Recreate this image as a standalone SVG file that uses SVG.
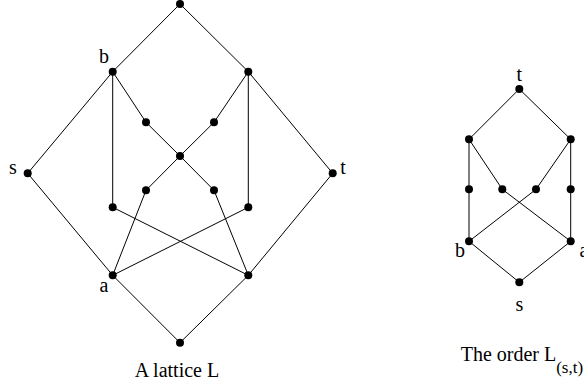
<svg xmlns="http://www.w3.org/2000/svg" width="584" height="385" viewBox="0 0 584 385">
<style>
.e{stroke:#000;stroke-width:1;fill:none}
.n{fill:#000}
text{font-family:"Liberation Serif","Times New Roman",serif;font-size:20px;fill:#000}
.lbl{text-anchor:middle}
</style>
<rect width="584" height="385" fill="#fff"/>
<g id="connectors" class="e">
<line x1="180" y1="4" x2="112.7" y2="71.7"/>
<line x1="180" y1="4" x2="248.3" y2="71.7"/>
<line x1="112.7" y1="71.7" x2="27.7" y2="173.3"/>
<line x1="112.7" y1="71.7" x2="112.7" y2="207.3"/>
<line x1="112.7" y1="71.7" x2="146" y2="122.3"/>
<line x1="248.3" y1="71.7" x2="332.7" y2="173.3"/>
<line x1="248.3" y1="71.7" x2="214" y2="122.3"/>
<line x1="248.3" y1="71.7" x2="248.3" y2="207.3"/>
<line x1="146" y1="122.3" x2="180" y2="156"/>
<line x1="214" y1="122.3" x2="180" y2="156"/>
<line x1="180" y1="156" x2="146" y2="190.3"/>
<line x1="180" y1="156" x2="214" y2="190.3"/>
<line x1="27.7" y1="173.3" x2="112.7" y2="275.3"/>
<line x1="332.7" y1="173.3" x2="248.3" y2="275.3"/>
<line x1="146" y1="190.3" x2="112.7" y2="275.3"/>
<line x1="214" y1="190.3" x2="248.3" y2="275.3"/>
<line x1="112.7" y1="207.3" x2="248.3" y2="275.3"/>
<line x1="248.3" y1="207.3" x2="112.7" y2="275.3"/>
<line x1="112.7" y1="275.3" x2="180" y2="342.7"/>
<line x1="248.3" y1="275.3" x2="180" y2="342.7"/>
<line x1="519.3" y1="89" x2="469" y2="139.3"/>
<line x1="519.3" y1="89" x2="570.7" y2="139.3"/>
<line x1="469" y1="139.3" x2="469" y2="189.3"/>
<line x1="469" y1="139.3" x2="502.3" y2="189.3"/>
<line x1="570.7" y1="139.3" x2="536" y2="189.3"/>
<line x1="570.7" y1="139.3" x2="570.7" y2="189.3"/>
<line x1="469" y1="189.3" x2="469" y2="241.3"/>
<line x1="570.7" y1="189.3" x2="570.7" y2="241.3"/>
<line x1="536" y1="189.3" x2="469" y2="241.3"/>
<line x1="502.3" y1="189.3" x2="570.7" y2="241.3"/>
<line x1="469" y1="241.3" x2="519.3" y2="282.3"/>
<line x1="570.7" y1="241.3" x2="519.3" y2="282.3"/>
</g>
<g id="L-top"><circle class="n" cx="180" cy="4" r="4"/></g>
<g id="L-b"><circle class="n" cx="112.7" cy="71.7" r="4"/><text class="lbl" x="104" y="63">b</text></g>
<g id="L-ur"><circle class="n" cx="248.3" cy="71.7" r="4"/></g>
<g id="L-il"><circle class="n" cx="146" cy="122.3" r="4"/></g>
<g id="L-ir"><circle class="n" cx="214" cy="122.3" r="4"/></g>
<g id="L-c"><circle class="n" cx="180" cy="156" r="4"/></g>
<g id="L-s"><circle class="n" cx="27.7" cy="173.3" r="4"/><text class="lbl" x="13" y="174">s</text></g>
<g id="L-t"><circle class="n" cx="332.7" cy="173.3" r="4"/><text class="lbl" x="343" y="174">t</text></g>
<g id="L-lil"><circle class="n" cx="146" cy="190.3" r="4"/></g>
<g id="L-lir"><circle class="n" cx="214" cy="190.3" r="4"/></g>
<g id="L-ll"><circle class="n" cx="112.7" cy="207.3" r="4"/></g>
<g id="L-lr"><circle class="n" cx="248.3" cy="207.3" r="4"/></g>
<g id="L-a"><circle class="n" cx="112.7" cy="275.3" r="4"/><text class="lbl" x="104" y="292">a</text></g>
<g id="L-br"><circle class="n" cx="248.3" cy="275.3" r="4"/></g>
<g id="L-bot"><circle class="n" cx="180" cy="342.7" r="4"/></g>
<g id="R-t"><circle class="n" cx="519.3" cy="89" r="4"/><text class="lbl" x="519.3" y="81">t</text></g>
<g id="R-ul"><circle class="n" cx="469" cy="139.3" r="4"/></g>
<g id="R-ur"><circle class="n" cx="570.7" cy="139.3" r="4"/></g>
<g id="R-m1"><circle class="n" cx="469" cy="189.3" r="4"/></g>
<g id="R-m2"><circle class="n" cx="502.3" cy="189.3" r="4"/></g>
<g id="R-m3"><circle class="n" cx="536" cy="189.3" r="4"/></g>
<g id="R-m4"><circle class="n" cx="570.7" cy="189.3" r="4"/></g>
<g id="R-b"><circle class="n" cx="469" cy="241.3" r="4"/><text class="lbl" x="460" y="257">b</text></g>
<g id="R-a"><circle class="n" cx="570.7" cy="241.3" r="4"/><text x="579.5" y="257">a</text></g>
<g id="R-s"><circle class="n" cx="519.3" cy="282.3" r="4"/><text class="lbl" x="519.3" y="311">s</text></g>
<text x="177" y="377" class="lbl">A lattice L</text>
<text x="460.7" y="361" font-size="20.5">The order L<tspan font-size="17" dy="11.5">(s,t)</tspan></text>
</svg>
